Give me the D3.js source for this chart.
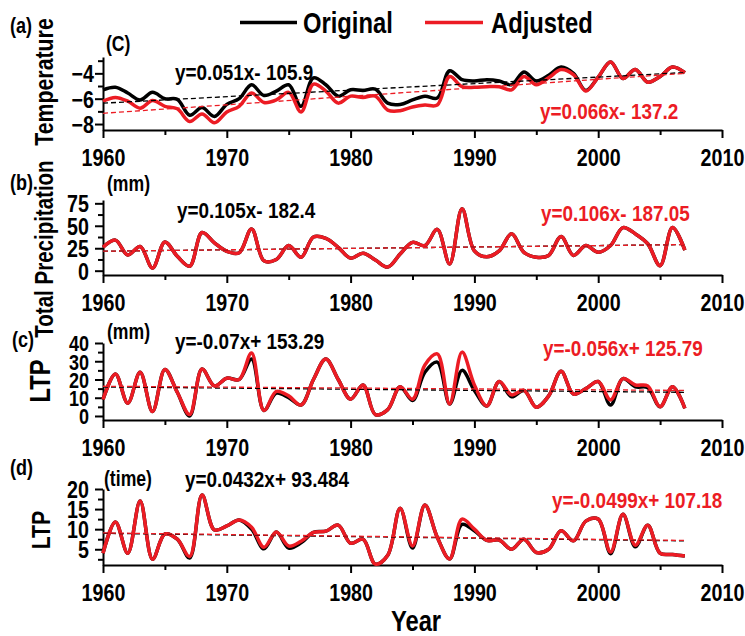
<!DOCTYPE html>
<html>
<head>
<meta charset="utf-8">
<script src="https://cdn.jsdelivr.net/npm/d3@7"></script>
<style>
  body { margin: 0; background: #fff; }
</style>
</head>
<body>
<div id="chart"></div>
<script>
// Data (annual values 1960-2007)
const years = [1960, 1961, 1962, 1963, 1964, 1965, 1966, 1967, 1968, 1969,
               1970, 1971, 1972, 1973, 1974, 1975, 1976, 1977, 1978, 1979,
               1980, 1981, 1982, 1983, 1984, 1985, 1986, 1987, 1988, 1989,
               1990, 1991, 1992, 1993, 1994, 1995, 1996, 1997, 1998, 1999,
               2000, 2001, 2002, 2003, 2004, 2005, 2006, 2007];

// (a) temperature
const tempOrig = [-5.3, -5.1, -5.55, -6.1, -5.5, -6.0, -6.05, -7.3, -6.7, -7.4,
                  -6.45, -6.0, -4.9, -5.75, -5.4, -4.9, -6.6, -4.35, -4.9, -5.8,
                  -5.3, -5.35, -5.25, -6.35, -6.45, -6.1, -5.8, -5.95, -3.8, -4.5,
                  -4.6, -4.5, -4.6, -4.9, -3.9, -4.6, -4.15, -3.5, -4.0, -5.35,
                  -4.3, -3.1, -4.4, -3.7, -4.7, -4.25, -3.5, -3.95];
const tempAdj = [-6.2, -5.9, -6.2, -6.75, -6.15, -6.6, -6.8, -7.8, -7.2, -7.9,
                 -7.05, -6.6, -5.55, -6.3, -6.1, -5.5, -7.05, -4.85, -5.4, -6.35,
                 -5.8, -5.9, -5.8, -6.9, -6.95, -6.65, -6.5, -6.5, -4.25, -5.05,
                 -5.1, -5.05, -5.05, -5.3, -4.25, -4.9, -4.35, -3.7, -4.1, -5.4,
                 -4.3, -3.1, -4.4, -3.7, -4.7, -4.25, -3.5, -3.95];

// (b) total precipitation (original lies under adjusted)
const precipAdj = [26, 34, 17.5, 27, 3, 32, 16, 5, 42.5, 31,
                   21.5, 20, 46.5, 11, 12.5, 28, 15, 37.5, 36, 26,
                   14, 19.5, 12, 4, 18.5, 31.5, 28, 46, 7.5, 69,
                   22, 15.5, 22, 41, 20.5, 15, 17, 38, 17, 28,
                   20.5, 28, 48, 41, 30, 5.5, 48, 23];
const precipOrig = precipAdj.slice();

// (c) LTP (mm)
const ltpMmOrig = [9, 23, 7, 24, 2.4, 25.5, 13, 0, 25.7, 16.5,
                   20.7, 20, 31.2, 3, 12.5, 10, 6, 20, 31.2, 20,
                   9.2, 17, 0.8, 3.5, 16, 8.5, 24, 29.5, 6.6, 25,
                   14, 5.5, 18.9, 10.5, 14, 4.8, 11, 24.5, 12, 15,
                   18.9, 6, 20.5, 16, 15.5, 5.1, 16, 4.2];
const ltpMmAdj = [9, 23, 7, 24, 2.4, 25.5, 13, 0.8, 25.7, 16.5,
                  20.7, 20, 34.5, 3, 13.5, 11, 6, 20, 31.2, 20,
                  9.2, 17, 0.8, 3.5, 16, 9.2, 28, 34, 6.6, 35,
                  17, 5.5, 18.9, 11.6, 14, 4.8, 11, 24.5, 12, 15,
                  18.9, 8.8, 20.5, 17, 16.5, 5.1, 16, 4.2];

// (d) LTP (time)
const ltpTimeOrig = [4, 11.8, 4, 17, 2.5, 8.8, 7.5, 2.8, 18.5, 9.8,
                     10.8, 12.3, 10, 5.1, 9.3, 5.3, 6.6, 9.2, 9.5, 11,
                     6.5, 7.5, 1.3, 3.5, 15.2, 5.3, 16, 8, 2.6, 11.2,
                     9.6, 7.2, 7.3, 5, 7.5, 4.2, 5, 9.6, 7.1, 12,
                     12.5, 3.9, 13.7, 5.6, 11, 4, 3.7, 3.3];
const ltpTimeAdj = [4, 11.8, 4, 17, 2.5, 8.8, 7.5, 3.2, 18.5, 9.8,
                    10.8, 12.3, 10.5, 5.5, 9.3, 5.8, 7.0, 9.2, 9.5, 11,
                    6.5, 7.5, 1.3, 3.5, 15.2, 5.8, 16, 8, 2.6, 12.5,
                    10, 7.2, 7.3, 5, 7.5, 4.2, 5, 9.6, 7.1, 12,
                    12.5, 4.3, 13.7, 6, 11, 4, 3.7, 3.3];

// tick values
const xMajor = [1960, 1970, 1980, 1990, 2000, 2010];
const xMinor = [1965, 1975, 1985, 1995, 2005];
const tempTicks = [-8, -6, -4];
const tempMinor = [-7, -5, -3];
const precipTicks = [0, 25, 50, 75];
const precipMinor = [12.5, 37.5, 62.5];
const ltpMmTicks = [0, 10, 20, 30, 40];
const ltpMmMinor = [5, 15, 25, 35];
const ltpTimeTicks = [5, 10, 15, 20];
const ltpTimeMinor = [2.5, 7.5, 12.5, 17.5];

// equations as printed
const eqOrig = ['y=0.051x- 105.9', 'y=0.105x- 182.4', 'y=-0.07x+ 153.29', 'y=0.0432x+ 93.484'];
const eqAdj = ['y=0.066x- 137.2', 'y=0.106x- 187.05', 'y=-0.056x+ 125.79', 'y=-0.0499x+ 107.18'];

const RED = '#ec1c24';
const SANS = "'Liberation Sans', Arial, sans-serif";
const SQUEEZE = 0.82; // the figure uses a condensed bold face

const width = 745;
const height = 636;

const svg = d3.select('#chart').append('svg')
    .attr('width', width)
    .attr('height', height);

// condensed bold text helper
function narrowText(parent, tx, ty, size, str, opts = {}) {
    return parent.append('text')
        .attr('transform', `translate(${tx}, ${ty})${opts.rotate ? ' rotate(-90)' : ''} scale(${opts.sx || SQUEEZE}, 1)`)
        .attr('text-anchor', opts.anchor || 'start')
        .attr('font-family', SANS).attr('font-size', size).attr('font-weight', 'bold')
        .attr('fill', opts.fill || '#000')
        .text(str);
}

const x = d3.scaleLinear().domain([1960, 2010]).range([103, 722]);

const panels = [
    { tag: '(a)', unit: '(C)', orig: tempOrig, adj: tempAdj, domain: [-8.47, -2.71], top: 57, bottom: 130,
      major: tempTicks, minor: tempMinor, labelEnd: 94, labelSize: 24,
      tagPos: [10, 33], unitPos: [106, 51], eqO: [175, 80], eqA: [540, 119] },
    { tag: '(b)', unit: '(mm)', orig: precipOrig, adj: precipAdj, domain: [-4.8, 78.7], top: 200, bottom: 275,
      major: precipTicks, minor: precipMinor, labelEnd: 89, labelSize: 24,
      tagPos: [10, 190], unitPos: [107, 191], eqO: [177, 218], eqA: [541, 221] },
    { tag: '(c)', unit: '(mm)', orig: ltpMmOrig, adj: ltpMmAdj, domain: [-2.2, 40], top: 343, bottom: 420,
      major: ltpMmTicks, minor: ltpMmMinor, labelEnd: 89, labelSize: 22,
      tagPos: [12, 347], unitPos: [107, 339], eqO: [175, 349], eqA: [543, 356] },
    { tag: '(d)', unit: '(time)', orig: ltpTimeOrig, adj: ltpTimeAdj, domain: [1.08, 20], top: 489, bottom: 565,
      major: ltpTimeTicks, minor: ltpTimeMinor, labelEnd: 89, labelSize: 24,
      tagPos: [10, 475], unitPos: [104, 486], eqO: [185, 487], eqA: [552, 508] }
];

// least squares trend
function fit(vals) {
    const mx = d3.mean(years), my = d3.mean(vals);
    let sxy = 0, sxx = 0;
    years.forEach((yr, i) => {
        sxy += (yr - mx) * (vals[i] - my);
        sxx += (yr - mx) * (yr - mx);
    });
    const b = sxy / sxx;
    return { b, a: my - b * mx };
}

panels.forEach((p, k) => {
    const y = d3.scaleLinear().domain(p.domain).range([p.bottom, p.top]);
    const g = svg.append('g');

    // x axis
    const xAxisG = g.append('g')
        .attr('transform', `translate(0, ${p.bottom})`)
        .call(d3.axisBottom(x).tickValues(xMajor).tickSize(8).tickSizeOuter(0).tickFormat(d3.format('d')));
    xAxisG.selectAll('text')
        .attr('y', null).attr('dy', null)
        .attr('transform', `translate(0, 36) scale(${SQUEEZE}, 1)`)
        .attr('font-family', SANS).attr('font-size', 24).attr('font-weight', 'bold').attr('fill', '#000');
    g.append('g')
        .attr('transform', `translate(0, ${p.bottom})`)
        .call(d3.axisBottom(x).tickValues(xMinor).tickSize(5).tickFormat(''))
        .select('.domain').remove();

    // y axis
    const yAxisG = g.append('g')
        .attr('transform', `translate(${x(1960)}, 0)`)
        .call(d3.axisLeft(y).tickValues(p.major).tickSize(8).tickSizeOuter(0).tickFormat(d3.format('d')));
    yAxisG.selectAll('text')
        .attr('x', null).attr('dy', '0.36em')
        .attr('transform', `translate(${p.labelEnd - x(1960)}, 0) scale(${SQUEEZE}, 1)`)
        .attr('font-family', SANS).attr('font-size', p.labelSize).attr('font-weight', 'bold').attr('fill', '#000');
    g.append('g')
        .attr('transform', `translate(${x(1960)}, 0)`)
        .call(d3.axisLeft(y).tickValues(p.minor).tickSize(5).tickFormat(''))
        .select('.domain').remove();

    g.selectAll('.domain').attr('stroke', '#000').attr('stroke-width', 2);
    g.selectAll('.tick line').attr('stroke', '#000').attr('stroke-width', 2);

    // series
    const line = d3.line()
        .x((d, i) => x(years[i]))
        .y(d => y(d))
        .curve(d3.curveCatmullRom);

    g.append('path').datum(p.orig)
        .attr('d', line).attr('fill', 'none')
        .attr('stroke', '#000').attr('stroke-width', 3.5).attr('stroke-linejoin', 'round');
    g.append('path').datum(p.adj)
        .attr('d', line).attr('fill', 'none')
        .attr('stroke', RED).attr('stroke-width', 3.5).attr('stroke-linejoin', 'round');

    // trend lines
    const ends = [years[0], years[years.length - 1]];
    [[p.orig, '#000'], [p.adj, RED]].forEach(([vals, col]) => {
        const f = fit(vals);
        g.append('line')
            .attr('x1', x(ends[0])).attr('y1', y(f.a + f.b * ends[0]))
            .attr('x2', x(ends[1])).attr('y2', y(f.a + f.b * ends[1]))
            .attr('stroke', col).attr('stroke-width', 1.3)
            .attr('stroke-dasharray', '5,3');
    });

    // labels
    narrowText(svg, p.tagPos[0], p.tagPos[1], 22, p.tag);
    narrowText(svg, p.unitPos[0], p.unitPos[1], 21.5, p.unit);
    narrowText(svg, p.eqO[0], p.eqO[1], 22, eqOrig[k], { sx: 0.86 });
    narrowText(svg, p.eqA[0], p.eqA[1], 22, eqAdj[k], { sx: 0.86, fill: RED });
});

// y axis titles
const yTitles = [
    { text: 'Temperature', cx: 53, cy: 82, size: 26 },
    { text: 'Total Precipitation', cx: 53, cy: 249, size: 25 },
    { text: 'LTP', cx: 50, cy: 381, size: 29 },
    { text: 'LTP', cx: 50, cy: 530, size: 26 }
];
yTitles.forEach(t => narrowText(svg, t.cx, t.cy, t.size, t.text, { rotate: true, anchor: 'middle' }));

// x axis title
narrowText(svg, 416, 631, 29, 'Year', { anchor: 'middle' });

// legend
const legend = svg.append('g');
legend.append('line')
    .attr('x1', 240).attr('x2', 297).attr('y1', 22.5).attr('y2', 22.5)
    .attr('stroke', '#000').attr('stroke-width', 3.5);
narrowText(legend, 303, 33, 29, 'Original');
legend.append('line')
    .attr('x1', 425).attr('x2', 483).attr('y1', 22.5).attr('y2', 22.5)
    .attr('stroke', RED).attr('stroke-width', 3.5);
narrowText(legend, 491, 33, 29, 'Adjusted');
</script>
</body>
</html>
